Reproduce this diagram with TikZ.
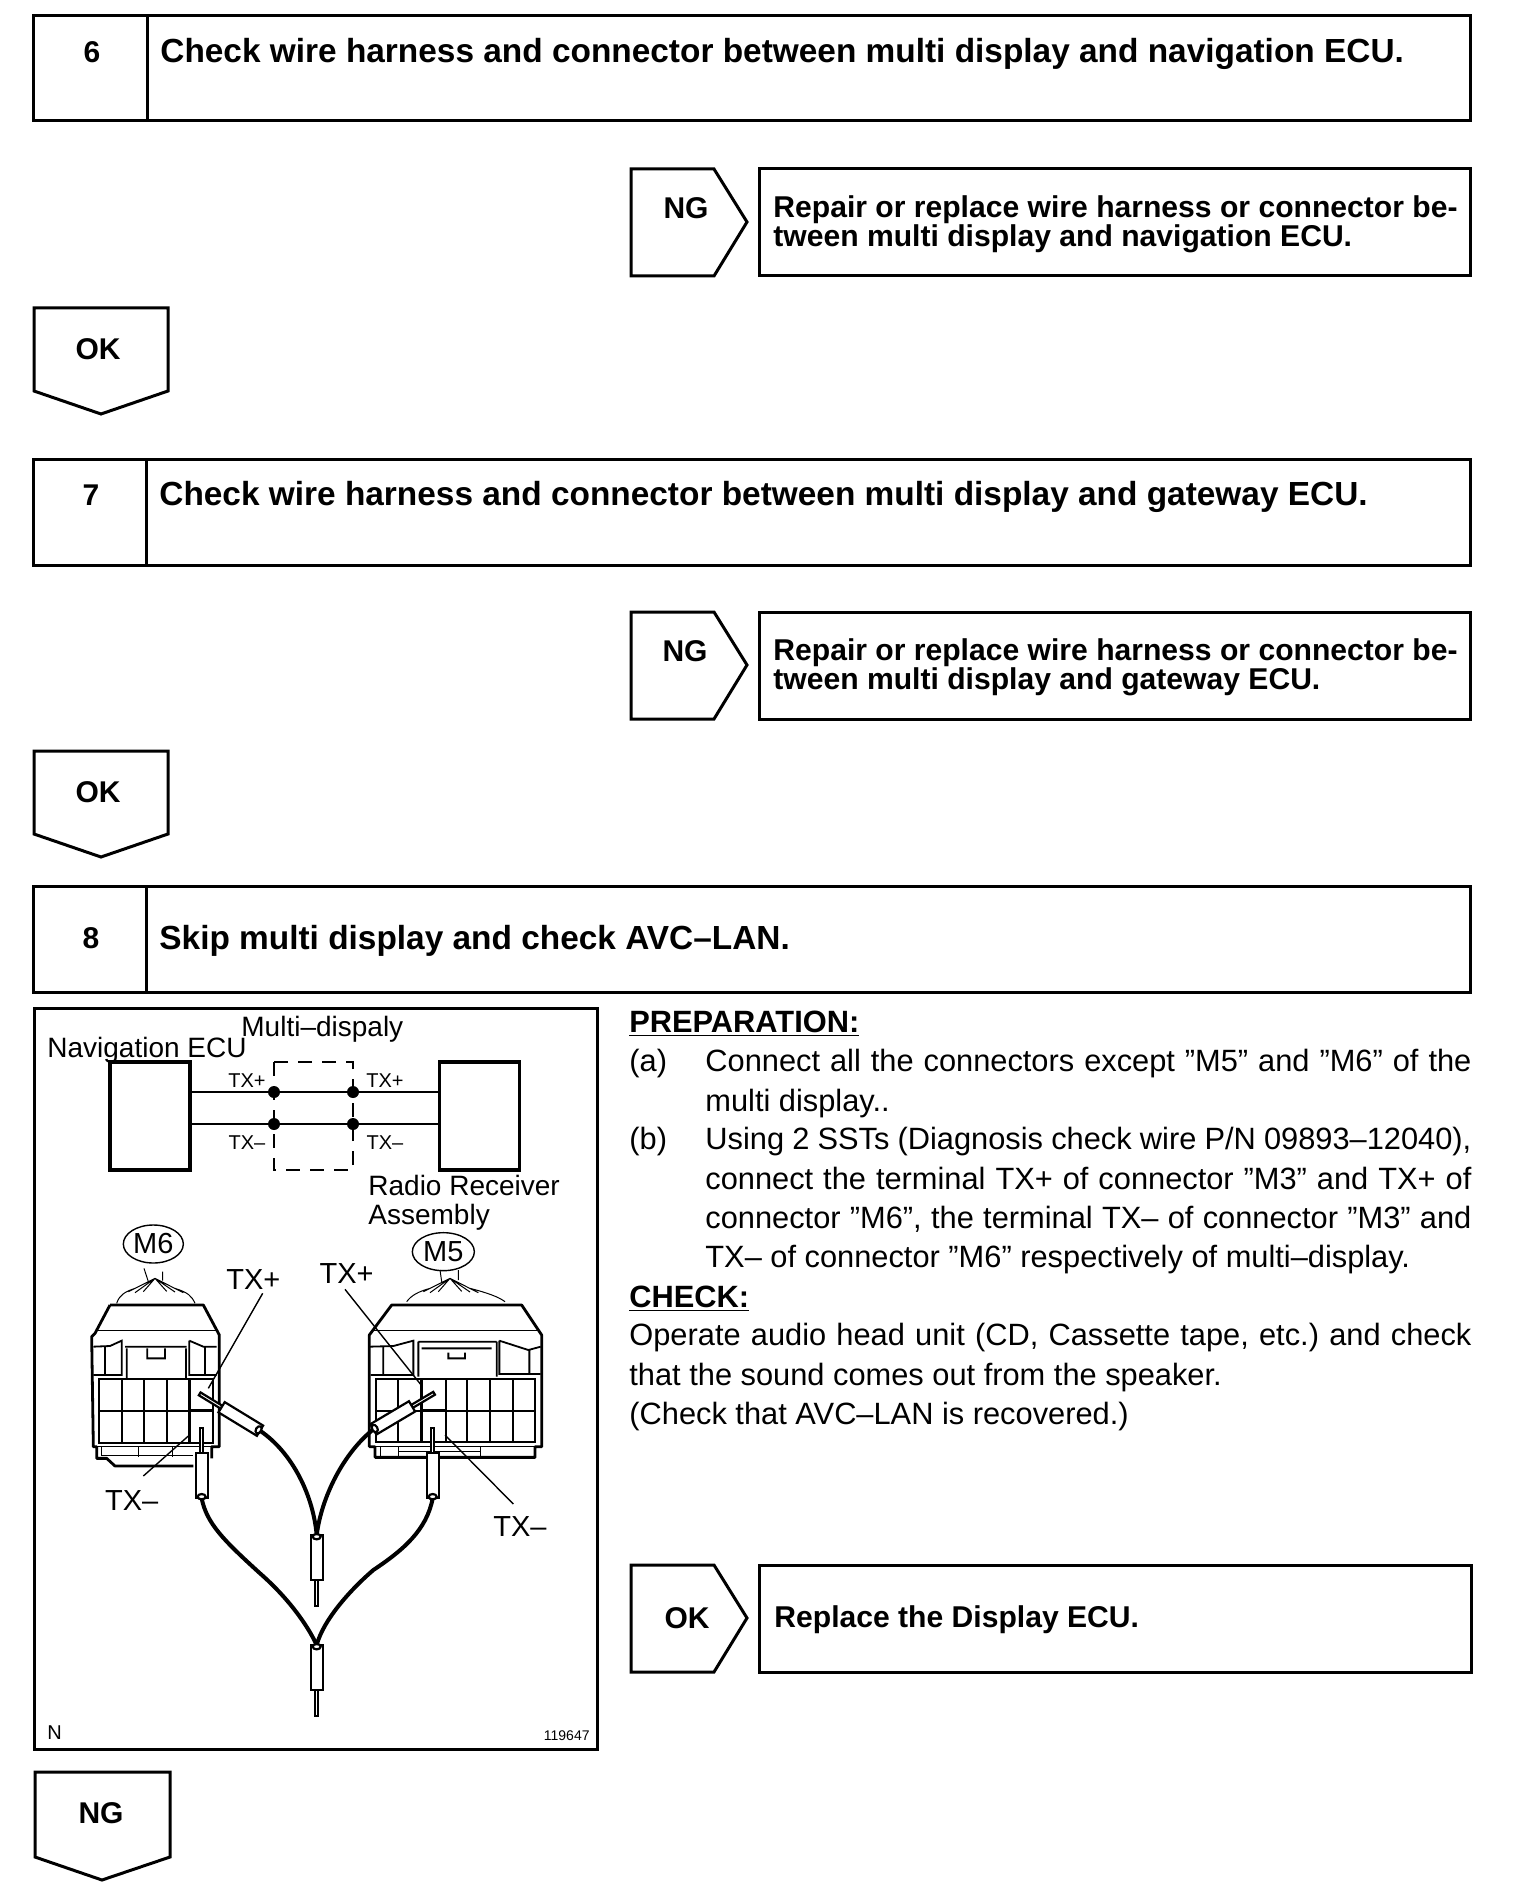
\documentclass[tikz,border=0pt]{standalone}
\usepackage{fontspec}
\setmainfont{Liberation Sans}
\usetikzlibrary{shapes,positioning,calc}
\frenchspacing

\newcommand{\testplug}[3]{%
  \begin{scope}[shift={(#1,#2)},rotate=#3]
    \draw[plugline,fill=white] (-5,135) rectangle (5,212);
    \draw[plugline,fill=white] (-18,0) rectangle (18,135);
    \draw[plugline,fill=white] (0,5) ellipse (12 and 8);
  \end{scope}}

\begin{document}
\begin{tikzpicture}[
    x=0.5pt, y=-0.5pt,
    frameline/.style={draw, line width=1.5pt, line join=miter},
    flagtext/.style={font=\fontsize{15}{18}\selectfont\bfseries, inner sep=0pt},
    headtext/.style={font=\fontsize{16.7}{18}\selectfont\bfseries, anchor=west, inner sep=0pt},
    steptext/.style={font=\fontsize{15.05}{15}\selectfont\bfseries, anchor=west, align=left, inner sep=0pt},
    bodytext/.style={font=\fontsize{15.4}{19.65}\selectfont, anchor=north west, inner sep=0pt, align=justify},
    sidetext/.style={font=\fontsize{15.4}{19.65}\selectfont, anchor=west, inner sep=0pt},
    blocklabel/.style={font=\fontsize{14}{16}\selectfont, anchor=west, inner sep=0pt},
    smalllabel/.style={font=\fontsize{10}{12}\selectfont, inner sep=0pt},
    wirelabel/.style={font=\fontsize{14.5}{16}\selectfont, inner sep=0pt},
    ecubox/.style={draw, line width=1.6pt, minimum width=40pt, minimum height=54pt, inner sep=0pt},
    dotmark/.style={circle, fill, minimum size=6pt, inner sep=0pt},
    thinline/.style={line width=0.5pt},
    shellline/.style={line width=1.4pt, line join=round},
    gridline/.style={line width=0.9pt},
    plugline/.style={line width=1.1pt},
    wireline/.style={line width=2pt, line cap=round},
    leader/.style={line width=0.7pt}
]
\useasboundingbox (0,0) rectangle (1520,1904);

% step 6
\draw[frameline] (33,16) rectangle (1470,121);
\draw[frameline] (147,16) -- (147,121);
\node[flagtext] (num6) at (92,52) {6};
\node[headtext] (head6) at (160,54) {Check wire harness and connector between multi display and navigation ECU.};
\draw[frameline] (631,169) -- (714,169) -- (747,222) -- (714,276) -- (631,276) -- cycle;
\node[flagtext] (ng6) at (686,208) {NG};
\draw[frameline] (759,169) rectangle (1470,276);
\node[steptext] (fix6) at (773,224) {Repair or replace wire harness or connector be-\\[-0.5pt]tween multi display and navigation ECU.};
\draw[frameline] (34,308) -- (168,308) -- (168,391) -- (101,414) -- (34,391) -- cycle;
\node[flagtext] (ok6) at (98,349) {OK};

% step 7
\draw[frameline] (33,459) rectangle (1470,565);
\draw[frameline] (146,459) -- (146,565);
\node[flagtext] (num7) at (91,495) {7};
\node[headtext] (head7) at (159,497) {Check wire harness and connector between multi display and gateway ECU.};
\draw[frameline] (631,612) -- (714,612) -- (747,665) -- (714,719) -- (631,719) -- cycle;
\node[flagtext] (ng7) at (685,651) {NG};
\draw[frameline] (759,612) rectangle (1470,719);
\node[steptext] (fix7) at (773,667) {Repair or replace wire harness or connector be-\\[-0.5pt]tween multi display and gateway ECU.};
\draw[frameline] (34,751) -- (168,751) -- (168,834) -- (101,857) -- (34,834) -- cycle;
\node[flagtext] (ok7) at (98,792) {OK};

% step 8
\draw[frameline] (33,886) rectangle (1470,992);
\draw[frameline] (146,886) -- (146,992);
\node[flagtext] (num8) at (91,938) {8};
\node[headtext] (head8) at (159,941) {Skip multi display and check AVC–LAN.};

% figure frame
\draw[frameline] (34,1008) rectangle (597,1749);
\node[smalllabel, anchor=west] (figN) at (47,1733) {N};
\node[font=\fontsize{7}{8}\selectfont, anchor=east, inner sep=0pt] (fignum) at (590,1736) {119647};

% block schematic
\node[ecubox] (nav) at (150,1116) {};
\node[ecubox] (radio) at (479.5,1116) {};
\draw[line width=0.8pt, dash pattern=on 7pt off 5pt] (274,1062) rectangle (353,1170);
\node[dotmark] (dotpa) at (274,1092) {};
\node[dotmark] (dotpb) at (353,1092) {};
\node[dotmark] (dotma) at (274,1124) {};
\node[dotmark] (dotmb) at (353,1124) {};
\draw[gridline] (nav.east |- dotpa) -- (dotpa) -- (dotpb) -- (radio.west |- dotpb);
\draw[gridline] (nav.east |- dotma) -- (dotma) -- (dotmb) -- (radio.west |- dotmb);
\node[smalllabel] (txpa) at (247,1081) {TX+};
\node[smalllabel] (txpb) at (385,1081) {TX+};
\node[smalllabel] (txma) at (247,1143) {TX–};
\node[smalllabel] (txmb) at (385,1143) {TX–};
\node[blocklabel] (navlabel) at (47,1050) {Navigation ECU};
\node[blocklabel] (mdlabel) at (241,1029) {Multi–dispaly};
\node[blocklabel] (rrlabel) at (368,1185) {Radio Receiver};
\node[blocklabel] (asmlabel) at (368,1217) {Assembly};

% connectors and test wires
\begin{scope}[shift={(60,1220)}, x=0.16667pt, y=-0.16667pt]
  % M6 side
  \node[draw, ellipse, line width=0.7pt, minimum width=30pt, minimum height=19pt, inner sep=0pt, wirelabel] (m6) at (280,72) {M6};
  \draw[thinline] (252,145) -- (265,185) (308,155) -- (308,182)
    (285,175) -- (205,215) (285,175) -- (225,218) (285,175) -- (250,215)
    (285,175) -- (320,214) (285,175) -- (345,216) (285,175) -- (370,218)
    (170,250) .. controls (178,225) and (195,215) .. (225,205)
    (405,250) .. controls (395,228) and (385,218) .. (345,205);
  \draw[shellline] (150,255) -- (430,255) -- (478,345) -- (478,680) -- (455,680) -- (455,715)
    (150,255) -- (105,340) -- (95,350) -- (100,680) -- (110,680) -- (110,715) -- (140,715) -- (165,738) -- (400,738);
  \draw[thinline] (105,330) -- (470,330) (100,680) -- (478,680) (125,680) -- (125,705) -- (400,705)
    (235,680) -- (235,712) (338,680) -- (338,712);
  \draw[gridline] (100,380) -- (150,378) -- (185,362) -- (185,465) -- (135,465) -- (135,380)
    (100,465) -- (135,465)
    (195,380) -- (380,380) (200,385) -- (200,475) (378,385) -- (378,475)
    (262,385) -- (262,415) -- (315,415) -- (315,385)
    (388,362) -- (388,465) -- (470,465) (388,362) -- (430,380) -- (470,380) (435,380) -- (435,465);
  \draw[gridline] (118,478) rectangle (460,668);
  \draw[gridline] (185,478) -- (185,668) (252,478) -- (252,668) (320,478) -- (320,668) (118,572) -- (388,572);
  \draw[shellline] (388,478) -- (388,668) (388,572) -- (458,572);
  % M5 side
  \node[draw, ellipse, line width=0.7pt, minimum width=31pt, minimum height=19pt, inner sep=0pt, wirelabel] (m5) at (1150,95) {M5};
  \draw[thinline] (1140,150) -- (1145,185) (1195,150) -- (1195,180)
    (1170,175) -- (1090,215) (1170,175) -- (1110,218) (1170,175) -- (1135,215)
    (1170,175) -- (1205,214) (1170,175) -- (1230,216) (1170,175) -- (1255,218)
    (1040,245) .. controls (1055,225) and (1075,215) .. (1110,205)
    (1335,245) .. controls (1315,230) and (1280,218) .. (1230,205);
  \draw[shellline] (995,255) -- (1385,255) -- (1445,345) -- (1445,680) -- (1425,680) -- (1425,712)
    -- (945,712) -- (945,680) -- (928,680) -- (928,345) -- cycle;
  \draw[thinline] (940,330) -- (1432,330) (928,680) -- (1445,680) (1015,680) -- (1015,710)
    (1260,680) -- (1260,710) (960,680) -- (960,712) (1015,695) -- (1260,695);
  \draw[gridline] (930,380) -- (1000,378) -- (1060,362) -- (1060,465) -- (932,465) (970,380) -- (970,465)
    (1075,365) -- (1310,365) (1075,365) -- (1075,470) (1310,365) -- (1310,470)
    (1085,385) -- (1295,385) (1165,398) -- (1165,415) -- (1215,415) -- (1215,398)
    (1318,362) -- (1318,462) -- (1442,462) (1318,362) -- (1405,390) -- (1442,380) (1408,390) -- (1408,462);
  \draw[gridline] (948,478) rectangle (1425,665);
  \draw[gridline] (1015,478) -- (1015,665) (1222,478) -- (1222,665) (1290,478) -- (1290,665) (1358,478) -- (1358,665)
    (948,572) -- (1085,572) (1158,572) -- (1425,572);
  \draw[shellline] (1085,478) -- (1085,665) (1158,478) -- (1158,665) (1085,572) -- (1158,572);

  % test wires
  \coordinate (endpa) at (600,632);
  \coordinate (endpb) at (940,628);
  \coordinate (endma) at (425,835);
  \coordinate (endmb) at (1118,835);
  \coordinate (joinp) at (770,945);
  \coordinate (joinm) at (770,1275);
  \coordinate (bendma) at (600,1060);
  \coordinate (bendmb) at (940,1050);
  \draw[wireline] (endpa) .. controls (700,700) and (760,830) .. (joinp);
  \draw[wireline] (endpb) .. controls (850,700) and (785,830) .. (joinp);
  \draw[wireline] (endma) .. controls (440,910) and (490,960) .. (bendma) .. controls (680,1130) and (740,1210) .. (joinm);
  \draw[wireline] (endmb) .. controls (1100,930) and (1030,990) .. (bendmb) .. controls (870,1110) and (790,1200) .. (joinm);
  \testplug{600}{632}{-121.4}
  \testplug{940}{628}{120.7}
  \testplug{425}{835}{180}
  \testplug{1118}{835}{180}
  \testplug{770}{945}{0}
  \testplug{770}{1275}{0}

  % pin labels
  \node[wirelabel] (tpl) at (580,178) {TX+};
  \node[wirelabel] (tpr) at (860,160) {TX+};
  \node[wirelabel] (tml) at (215,840) {TX–};
  \node[wirelabel] (tmr) at (1380,918) {TX–};
  \coordinate (pintpl) at (445,505);
  \coordinate (pintpr) at (1085,497);
  \coordinate (pintml) at (385,648);
  \coordinate (pintmr) at (1155,645);
  \draw[leader] ($(tpl)+(28,42)$) -- (pintpl);
  \draw[leader] ($(tpr)+(-5,48)$) -- (pintpr);
  \draw[leader] ($(tml)+(35,-72)$) -- (pintml);
  \draw[leader] ($(tmr)+(-20,-66)$) -- (pintmr);
\end{scope}

% instructions
\node[sidetext, font=\fontsize{15.4}{17}\selectfont\bfseries] (prep) at (629,1024) {\underline{PREPARATION:}};
\node[sidetext] (itema) at (629,1064) {(a)};
\node[bodytext, text width=383pt] (texta) at (705,1049) {Connect all the connectors except ”M5” and ”M6” of the\linebreak multi display..\par};
\node[sidetext] (itemb) at (629,1142) {(b)};
\node[bodytext, text width=383pt] (textb) at (705,1127) {Using 2 SSTs (Diagnosis check wire P/N 09893–12040),\linebreak connect the terminal TX+ of connector ”M3” and TX+ of\linebreak connector ”M6”, the terminal TX– of connector ”M3” and\linebreak TX– of connector ”M6” respectively of multi–display.\par};
\node[sidetext, font=\fontsize{15.4}{17}\selectfont\bfseries] (check) at (629,1299) {\underline{CHECK:}};
\node[bodytext, text width=421pt] (textc) at (629,1323) {Operate audio head unit (CD, Cassette tape, etc.) and check\linebreak that the sound comes out from the speaker.\par (Check that AVC–LAN is recovered.)\par};

% result
\draw[frameline] (631,1565) -- (714,1565) -- (747,1618) -- (714,1672) -- (631,1672) -- cycle;
\node[flagtext] (ok8) at (687,1618) {OK};
\draw[frameline] (759,1565) rectangle (1471,1672);
\node[steptext] (fix8) at (774,1620) {Replace the Display ECU.};
\draw[frameline] (35,1772) -- (170,1772) -- (170,1857) -- (102,1880) -- (35,1857) -- cycle;
\node[flagtext] (ng8) at (101,1813) {NG};
\end{tikzpicture}
\end{document}
